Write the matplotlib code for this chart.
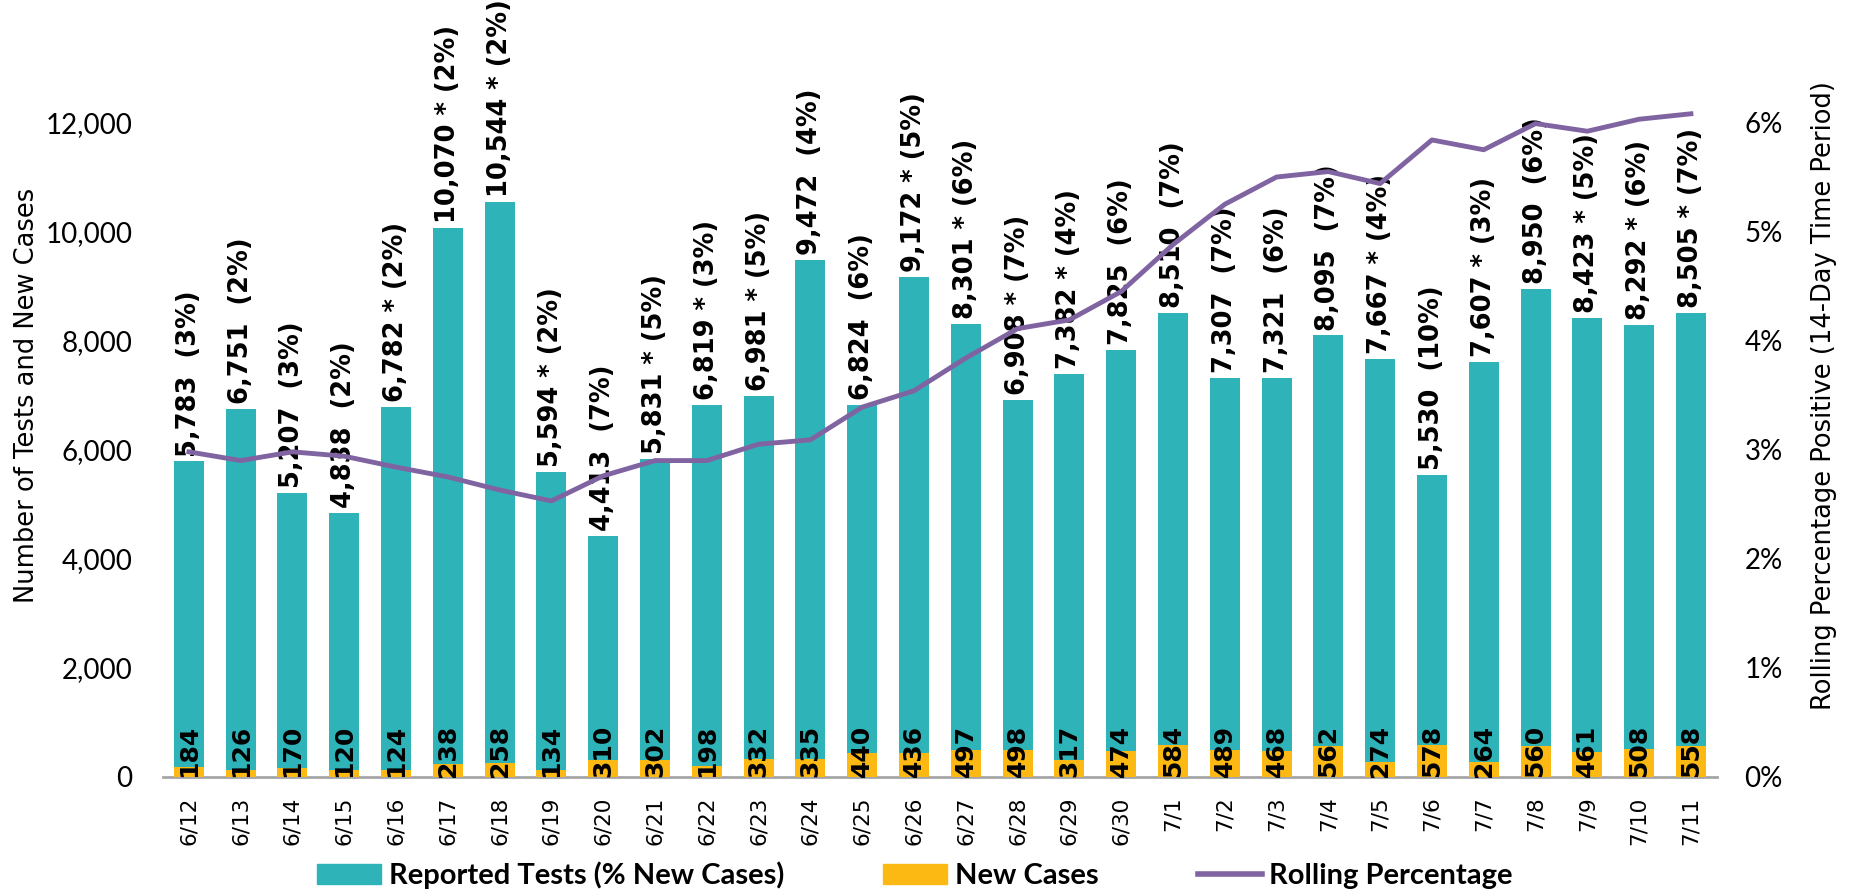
import matplotlib.pyplot as plt
from matplotlib.lines import Line2D
from matplotlib.patches import Patch

dates = ['6/12', '6/13', '6/14', '6/15', '6/16', '6/17', '6/18', '6/19', '6/20', '6/21',
         '6/22', '6/23', '6/24', '6/25', '6/26', '6/27', '6/28', '6/29', '6/30', '7/1',
         '7/2', '7/3', '7/4', '7/5', '7/6', '7/7', '7/8', '7/9', '7/10', '7/11']
tests = [5783, 6751, 5207, 4838, 6782, 10070, 10544, 5594, 4413, 5831,
         6819, 6981, 9472, 6824, 9172, 8301, 6908, 7382, 7825, 8510,
         7307, 7321, 8095, 7667, 5530, 7607, 8950, 8423, 8292, 8505]
new_cases = [184, 126, 170, 120, 124, 238, 258, 134, 310, 302,
             198, 332, 335, 440, 436, 497, 498, 317, 474, 584,
             489, 468, 562, 274, 578, 264, 560, 461, 508, 558]
pct_new = [3, 2, 3, 2, 2, 2, 2, 2, 7, 5,
           3, 5, 4, 6, 5, 6, 7, 4, 6, 7,
           7, 6, 7, 4, 10, 3, 6, 5, 6, 7]
starred = [0, 0, 0, 0, 1, 1, 1, 1, 0, 1,
           1, 1, 0, 0, 1, 1, 1, 1, 0, 0,
           0, 0, 0, 1, 0, 1, 0, 1, 1, 1]
rolling = [2.98, 2.90, 2.98, 2.94, 2.84, 2.75, 2.63, 2.53, 2.76, 2.90,
           2.90, 3.05, 3.09, 3.39, 3.54, 3.84, 4.11, 4.19, 4.45, 4.88,
           5.25, 5.50, 5.55, 5.44, 5.84, 5.75, 5.99, 5.92, 6.03, 6.08]

teal = '#2EB3B9'
gold = '#FDB913'
purple = '#8064A2'

fig = plt.figure(figsize=(18.52, 8.96), dpi=100)
ax1 = fig.add_axes([0.088, 0.133, 0.839, 0.852])
x = list(range(len(dates)))

ax1.bar(x, tests, width=0.58, color=teal, zorder=2)
ax1.bar(x, new_cases, width=0.58, color=gold, zorder=3)

for i in x:
    star = ' * ' if starred[i] else '  '
    ax1.text(i, tests[i] + 90, f'{tests[i]:,}{star}({pct_new[i]}%)', rotation=90,
             ha='center', va='bottom', fontsize=18.5, fontweight='bold',
             family='DejaVu Sans', zorder=6, clip_on=False)
    ax1.text(i, 0, f'{new_cases[i]}', rotation=90, ha='center', va='bottom',
             fontsize=18, fontweight='bold', family='DejaVu Sans', zorder=6)

ax1.set_xlim(-0.5, len(dates) - 0.5)
ax1.set_ylim(0, 14000)
ax1.set_yticks(range(0, 12001, 2000))
ax1.set_yticklabels([f'{v:,}' for v in range(0, 12001, 2000)], family='Lato', fontsize=20)
ax1.set_xticks(x)
ax1.set_xticklabels(dates, rotation=90, fontsize=15.5, family='DejaVu Sans')
ax1.tick_params(axis='both', length=0)
ax1.tick_params(axis='x', pad=14)
ax1.tick_params(axis='y', pad=22)
ax1.set_ylabel('Number of Tests and New Cases', fontsize=18.5, family='DejaVu Sans',
               labelpad=4)
for s in ['top', 'right', 'left']:
    ax1.spines[s].set_visible(False)
ax1.spines['bottom'].set_color('#A6A6A6')
ax1.spines['bottom'].set_linewidth(2)

ax2 = ax1.twinx()
ax2.plot(x, rolling, color=purple, lw=3.5, zorder=5, clip_on=False)
ax2.set_ylim(0, 7)
ax2.set_yticks(range(0, 7))
ax2.set_yticklabels([f'{v}%' for v in range(0, 7)], family='Lato', fontsize=20)
ax2.tick_params(axis='y', length=0, pad=20)
ax2.set_ylabel('Rolling Percentage Positive (14-Day Time Period)', fontsize=18.5,
               family='DejaVu Sans', labelpad=20)
for s in ax2.spines.values():
    s.set_visible(False)

handles = [Patch(color=teal), Patch(color=gold), Line2D([0], [0], color=purple, lw=4)]
labels = ['Reported Tests (% New Cases)', 'New Cases', 'Rolling Percentage']
fig.legend(handles, labels, loc='lower center', bbox_to_anchor=(0.494, -0.022), ncol=3,
           frameon=False, prop={'family': 'Lato', 'weight': 'bold', 'size': 21},
           columnspacing=3.4, handlelength=2.2, handletextpad=0.25)

fig.savefig('out.png', dpi=100)
